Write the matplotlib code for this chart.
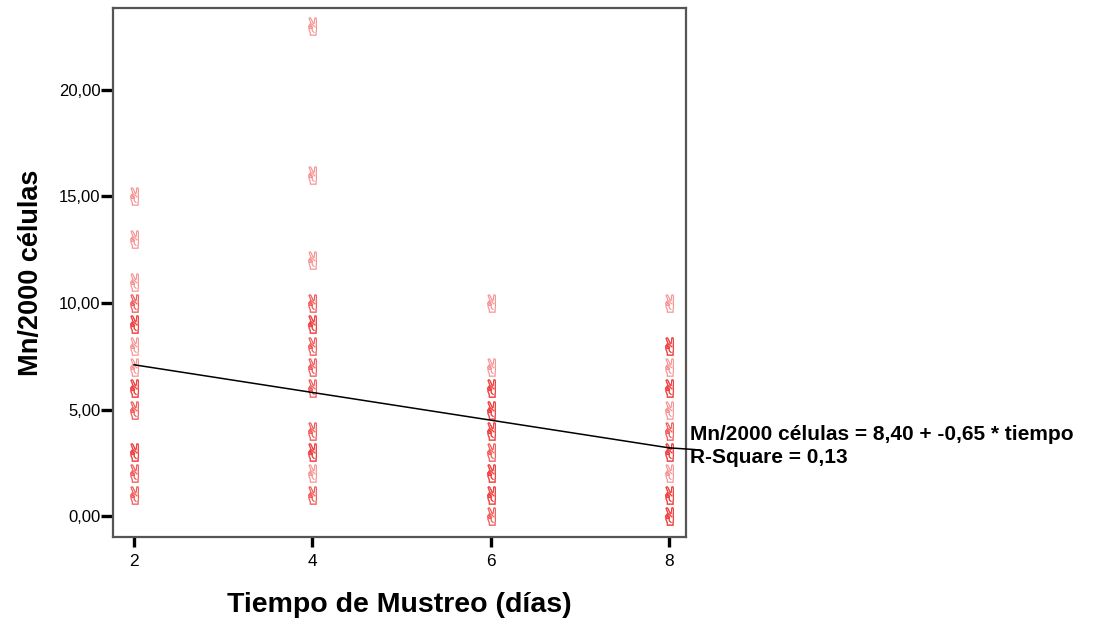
import matplotlib
matplotlib.use("Agg")
import matplotlib.pyplot as plt
from matplotlib.ticker import FuncFormatter

plt.rcParams['font.family'] = ['Liberation Sans', 'DejaVu Sans']

# observations per sampling day (repeated values = overlapping cases)
days = [2, 4, 6, 8]
mn_day2 = [1, 1, 2, 2, 3, 3, 3, 5, 5, 6, 6, 6, 7, 8, 9, 9, 9, 10, 10, 11, 13, 15]
mn_day4 = [1, 1, 2, 3, 3, 3, 4, 4, 6, 6, 7, 7, 8, 8, 9, 9, 9, 10, 10, 12, 16, 23]
mn_day6 = [0, 0, 1, 1, 1, 2, 2, 2, 3, 3, 4, 4, 4, 5, 5, 5, 6, 6, 6, 7, 10]
mn_day8 = [0, 0, 0, 1, 1, 1, 2, 3, 3, 3, 4, 4, 5, 6, 6, 6, 7, 8, 8, 8, 10]
mn_by_day = [mn_day2, mn_day4, mn_day6, mn_day8]

intercept = 8.40
slope = -0.65
r_square = 0.13

y_ticks = [0, 5, 10, 15, 20]

fig = plt.figure(figsize=(11.19, 6.24), dpi=100)
ax = fig.add_axes([0.101, 0.1394, 0.512, 0.8478])

for day, vals in zip(days, mn_by_day):
    ax.scatter([day] * len(vals), vals, marker='$\u270C$', s=170,
               color='#f02828', alpha=0.42, linewidths=0.3, zorder=3)

fit_x = [days[0], days[-1]]
fit_y = [intercept + slope * d for d in fit_x]
ax.plot(fit_x, fit_y, color='black', lw=1.1, zorder=4)
# leader from the end of the fit line to the equation label
ax.plot([days[-1], 8.29], [fit_y[-1], fit_y[-1] - 0.08], color='black',
        lw=1.1, clip_on=False, zorder=4)

ax.set_xlim(1.764, 8.19)
ax.set_ylim(-0.986, 23.85)
ax.set_xticks(days)
ax.set_yticks(y_ticks)
ax.yaxis.set_major_formatter(FuncFormatter(lambda v, p: f"{v:.2f}".replace('.', ',')))
ax.tick_params(axis='y', length=9, width=2.4, pad=0, labelsize=12, color='black')
ax.tick_params(axis='x', length=7.5, width=2.4, pad=5, labelsize=12.5, color='black')
for sp in ax.spines.values():
    sp.set_color('#555555')
    sp.set_linewidth(1.6)

ax.set_xlabel('Tiempo de Mustreo (días)', fontsize=20.5, fontweight='bold', labelpad=16)
ax.set_ylabel('Mn/2000 células', fontsize=19.5, fontweight='bold', labelpad=11)

fig.text(0.617, 0.295, f"Mn/2000 células = {intercept:.2f} + {slope:.2f} * tiempo".replace('.', ','),
         fontsize=15, fontweight='bold', va='baseline')
fig.text(0.617, 0.258, f"R-Square = {r_square:.2f}".replace('.', ','),
         fontsize=15, fontweight='bold', va='baseline')

fig.savefig('out.png', dpi=100)
